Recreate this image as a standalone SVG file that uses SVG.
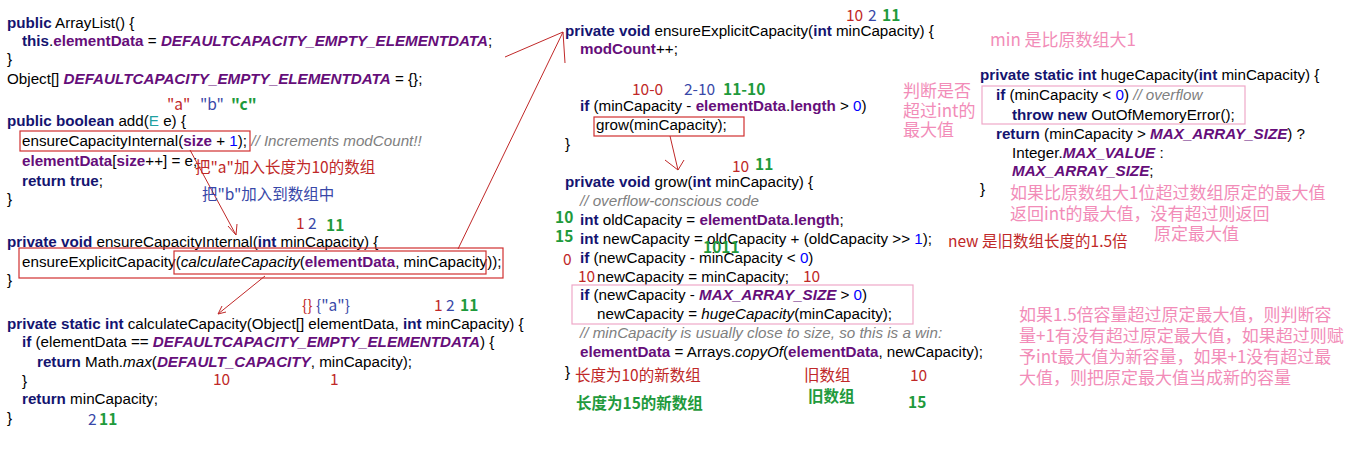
<svg xmlns="http://www.w3.org/2000/svg" width="1349" height="474" viewBox="0 0 1349 474">
<style>
.c{font-family:"Liberation Sans",Arial,sans-serif;font-size:15.2px;fill:#000}
.k{font-weight:bold;fill:#141470}
.f{font-weight:bold;fill:#660e7a}
.s{font-weight:bold;font-style:italic;fill:#660e7a}
.i{font-style:italic}
.cm{font-style:italic;fill:#808080}
.n{fill:#0000ff}
.a{font-family:"Noto Sans CJK SC","DejaVu Serif",serif;font-size:15.5px}
.r{fill:#c02828}.b{fill:#3848a8}.g{fill:#1f9a3c;font-weight:bold}.p{fill:#f28cb8;font-size:17px}
.box{fill:none;stroke:#d03030;stroke-width:1.2}
.pbox{fill:none;stroke:#eea8c8;stroke-width:1.2}
.ln{fill:none;stroke:#c02828;stroke-width:1}
</style>
<rect width="1349" height="474" fill="#fff"/>
<g id="code-left">
<text class="c" x="7" y="28"><tspan class="k">public</tspan> ArrayList() {</text>
<text class="c" x="22" y="46"><tspan class="k">this</tspan>.<tspan class="f" font-weight="normal">elementData</tspan> = <tspan class="s">DEFAULTCAPACITY_EMPTY_ELEMENTDATA</tspan>;</text>
<text class="c" x="7" y="64">}</text>
<text class="c" x="7" y="84">Object[] <tspan class="s">DEFAULTCAPACITY_EMPTY_ELEMENTDATA</tspan> = {};</text>
<text class="c" x="7" y="126"><tspan class="k">public boolean</tspan> add(<tspan fill="#20a0a0">E</tspan> e) {</text>
<text class="c" x="22" y="146">ensureCapacityInternal(<tspan class="f">size</tspan> + <tspan class="n">1</tspan>); <tspan class="cm">// Increments modCount!!</tspan></text>
<text class="c" x="22" y="166"><tspan class="f">elementData</tspan>[<tspan class="f">size</tspan>++] = e;</text>
<text class="c" x="22" y="186"><tspan class="k">return true</tspan>;</text>
<text class="c" x="7" y="204">}</text>
<text class="c" x="7" y="247"><tspan class="k">private void</tspan> ensureCapacityInternal(<tspan class="k">int</tspan> minCapacity) {</text>
<text class="c" x="22" y="267">ensureExplicitCapacity(<tspan class="i">calculateCapacity</tspan>(<tspan class="f">elementData</tspan>, minCapacity));</text>
<text class="c" x="7" y="285">}</text>
<text class="c" x="7" y="329"><tspan class="k">private static int</tspan> calculateCapacity(Object[] elementData, <tspan class="k">int</tspan> minCapacity) {</text>
<text class="c" x="22" y="347"><tspan class="k">if</tspan> (elementData == <tspan class="s">DEFAULTCAPACITY_EMPTY_ELEMENTDATA</tspan>) {</text>
<text class="c" x="37" y="367"><tspan class="k">return</tspan> Math.<tspan class="i">max</tspan>(<tspan class="s">DEFAULT_CAPACITY</tspan>, minCapacity);</text>
<text class="c" x="22" y="386">}</text>
<text class="c" x="22" y="404"><tspan class="k">return</tspan> minCapacity;</text>
<text class="c" x="7" y="423">}</text>
</g>
<g id="code-mid">
<text class="c" x="565" y="36"><tspan class="k">private void</tspan> ensureExplicitCapacity(<tspan class="k">int</tspan> minCapacity) {</text>
<text class="c" x="580" y="54"><tspan class="f">modCount</tspan>++;</text>
<text class="c" x="580" y="111"><tspan class="k">if</tspan> (minCapacity - <tspan class="f">elementData</tspan>.<tspan class="f">length</tspan> &gt; <tspan class="n">0</tspan>)</text>
<text class="c" x="596" y="130">grow(minCapacity);</text>
<text class="c" x="565" y="149">}</text>
<text class="c" x="565" y="187"><tspan class="k">private void</tspan> grow(<tspan class="k">int</tspan> minCapacity) {</text>
<text class="c cm" x="580" y="206">// overflow-conscious code</text>
<text class="c" x="580" y="225"><tspan class="k">int</tspan> oldCapacity = <tspan class="f">elementData</tspan>.<tspan class="f">length</tspan>;</text>
<text class="c" x="580" y="244"><tspan class="k">int</tspan> newCapacity = oldCapacity + (oldCapacity &gt;&gt; <tspan class="n">1</tspan>);</text>
<text class="c" x="580" y="263"><tspan class="k">if</tspan> (newCapacity - minCapacity &lt; <tspan class="n">0</tspan>)</text>
<text class="c" x="597" y="282">newCapacity = minCapacity;</text>
<text class="c" x="580" y="300"><tspan class="k">if</tspan> (newCapacity - <tspan class="s">MAX_ARRAY_SIZE</tspan> &gt; <tspan class="n">0</tspan>)</text>
<text class="c" x="597" y="319">newCapacity = <tspan class="i">hugeCapacity</tspan>(minCapacity);</text>
<text class="c cm" x="580" y="338">// minCapacity is usually close to size, so this is a win:</text>
<text class="c" x="580" y="357"><tspan class="f">elementData</tspan> = Arrays.<tspan class="i">copyOf</tspan>(<tspan class="f">elementData</tspan>, newCapacity);</text>
<text class="c" x="565" y="377">}</text>
</g>
<g id="code-right">
<text class="c" x="980" y="80"><tspan class="k">private static int</tspan> hugeCapacity(<tspan class="k">int</tspan> minCapacity) {</text>
<text class="c" x="996" y="100"><tspan class="k">if</tspan> (minCapacity &lt; <tspan class="n">0</tspan>) <tspan class="cm">// overflow</tspan></text>
<text class="c" x="1012" y="120"><tspan class="k">throw new</tspan> OutOfMemoryError();</text>
<text class="c" x="996" y="139"><tspan class="k">return</tspan> (minCapacity &gt; <tspan class="s">MAX_ARRAY_SIZE</tspan>) ?</text>
<text class="c" x="1012" y="158">Integer.<tspan class="s">MAX_VALUE</tspan> :</text>
<text class="c" x="1012" y="176"><tspan class="s">MAX_ARRAY_SIZE</tspan>;</text>
<text class="c" x="980" y="194">}</text>
</g>
<g id="boxes">
<rect class="box" x="20" y="131" width="230" height="20"/>
<rect class="box" x="19" y="248" width="484" height="30"/>
<rect class="box" x="174" y="251" width="312" height="23"/>
<rect class="box" x="594" y="117" width="150" height="19"/>
<rect class="pbox" x="572" y="285" width="341" height="39"/>
<rect class="pbox" x="982" y="86" width="263" height="38"/>
</g>
<g id="connectors">
<path class="ln" d="M190,150 L236,235 M228,226 L236,235 L237,224"/>
<path class="ln" d="M458,249 L563,32 M505,57 L563,32 L565,63"/>
<path class="ln" d="M265,276 L218,314 M226,312 L218,314 L222,306"/>
<path class="ln" d="M670,136 L678,170 M665,160 L678,170 L684,160"/>
</g>
<g id="annotations">
<text class="a r" x="167" y="110">"a"</text><text class="a b" x="200" y="110">"b"</text><text class="a g" x="231" y="110">"c"</text>
<text class="a r" x="195" y="173">把"a"加入长度为10的数组</text>
<text class="a b" x="202" y="200">把"b"加入到数组中</text>
<text class="a r" x="296" y="229">1</text><text class="a b" x="308" y="229">2</text><text class="a g" x="326" y="231">11</text>
<text class="a r" x="302" y="311">{}</text><text class="a b" x="316" y="311">{"a"}</text>
<text class="a r" x="434" y="311">1</text><text class="a b" x="446" y="311">2</text><text class="a g" x="460" y="311">11</text>
<text class="a r" x="213" y="385">10</text><text class="a r" x="330" y="385">1</text>
<text class="a b" x="88" y="425">2</text><text class="a g" x="99" y="425">11</text>
<text class="a r" x="846" y="21">10</text><text class="a b" x="868" y="21">2</text><text class="a g" x="882" y="21">11</text>
<text class="a r" x="632" y="95">10-0</text><text class="a b" x="684" y="95">2-10</text><text class="a g" x="723" y="95">11-10</text>
<text class="a r" x="732" y="172">10</text><text class="a g" x="755" y="170">11</text>
<text class="a g" x="555" y="223">10</text><text class="a g" x="555" y="242">15</text>
<text class="a g" x="703" y="253" font-size="12" font-weight="normal">1011</text>
<text class="a r" x="563" y="265">0</text>
<text class="a r" x="578" y="282">10</text><text class="a r" x="803" y="282">10</text>
<text class="a r" x="575" y="381">长度为10的新数组</text>
<text class="a r" x="804" y="381">旧数组</text><text class="a r" x="910" y="381">10</text>
<text class="a g" x="576" y="409">长度为15的新数组</text>
<text class="a g" x="808" y="402">旧数组</text><text class="a g" x="908" y="408">15</text>
<text class="a r" x="948" y="247" font-size="16.5">new 是旧数组长度的1.5倍</text>
<text class="a p" x="990" y="46">min 是比原数组大1</text>
<text class="a p" x="903" y="97">判断是否</text>
<text class="a p" x="903" y="117">超过int的</text>
<text class="a p" x="903" y="136">最大值</text>
<text class="a p" x="1010" y="199">如果比原数组大1位超过数组原定的最大值</text>
<text class="a p" x="1010" y="220">返回int的最大值，没有超过则返回</text>
<text class="a p" x="1154" y="240">原定最大值</text>
<text class="a p" x="1019" y="321">如果1.5倍容量超过原定最大值，则判断容</text>
<text class="a p" x="1019" y="342">量+1有没有超过原定最大值，如果超过则赋</text>
<text class="a p" x="1019" y="363">予int最大值为新容量，如果+1没有超过最</text>
<text class="a p" x="1019" y="384">大值，则把原定最大值当成新的容量</text>
</g>
</svg>
